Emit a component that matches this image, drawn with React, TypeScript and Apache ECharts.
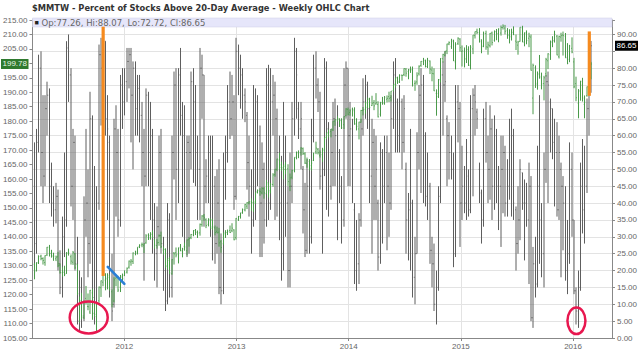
import React, { useEffect, useRef } from "react";
import * as echarts from "echarts";

const TITLE = "$MMTW - Percent of Stocks Above 20-Day Average - Weekly OHLC Chart";
const FONT = "'Liberation Sans', Arial, sans-serif";
const WIDE_FONT = "'DejaVu Sans', Verdana, sans-serif";

// Monday of the first weekly bar, and the dates at the plot's left / right edges
const firstWeek = "2011-03-14";
const axisStart = "2011-03-08";
const axisEnd = "2016-05-07";
const yearLabels = ["2012", "2013", "2014", "2015", "2016"];

// $MMTW weekly [open, high, low, close] (right axis, percent)
const mmtw2011 = [
  [45, 58, 18, 28], [28, 62, 25, 58], [58, 84, 55, 80], [80, 85, 45, 55], [55, 72, 40, 48], [48, 72, 45, 68],
  [68, 76, 60, 72], [72, 74, 40, 45], [45, 52, 36, 40], [40, 45, 33, 38], [38, 46, 34, 42], [42, 44, 20, 22],
  [22, 26, 13, 15], [15, 36, 12, 30], [30, 55, 24, 35], [35, 88, 33, 86], [86, 90, 70, 78], [78, 80, 39, 45],
  [45, 62, 35, 58], [58, 60, 20, 22], [22, 30, 4, 5], [5, 20, 2, 15], [15, 18, 3, 6], [6, 42, 5, 35],
  [35, 62, 30, 40], [40, 50, 18, 28], [28, 73, 22, 65], [65, 66, 10, 12], [12, 51, 4, 20], [20, 45, 3, 40],
  [40, 87, 38, 84], [84, 89, 63, 80], [80, 92, 76, 88], [88, 88, 60, 65], [65, 72, 35, 62], [58, 60, 12, 20],
  [20, 25, 5, 8], [10, 65, 9, 62], [62, 69, 36, 55], [55, 62, 30, 35], [35, 78, 33, 75], [75, 80, 62, 70],
];
const mmtw2012 = [
  [70, 80, 66, 76], [76, 86, 70, 82], [82, 86, 74, 84], [84, 86, 58, 72], [72, 82, 50, 80], [80, 82, 60, 68],
  [68, 78, 60, 74], [74, 78, 58, 66], [66, 70, 45, 55], [55, 62, 17, 48], [48, 74, 45, 72], [72, 73, 45, 55],
  [55, 70, 35, 60], [60, 62, 25, 35], [35, 40, 17, 25], [25, 39, 15, 33], [33, 60, 30, 55], [55, 62, 25, 28],
  [28, 30, 14, 20], [20, 25, 8, 11], [11, 40, 10, 35], [35, 37, 12, 15], [15, 60, 12, 55], [55, 79, 47, 75],
  [75, 80, 35, 50], [50, 80, 40, 78], [78, 86, 60, 66], [66, 70, 30, 60], [60, 69, 28, 55], [55, 60, 24, 58],
  [58, 60, 25, 55], [55, 79, 50, 76], [76, 80, 46, 70], [70, 75, 45, 55], [55, 60, 35, 50], [50, 86, 35, 80],
  [80, 84, 65, 78], [78, 78, 33, 45], [45, 53, 40, 48], [48, 60, 40, 55], [55, 60, 30, 35], [35, 60, 23, 45],
  [45, 48, 22, 28], [28, 50, 25, 40], [40, 53, 13, 15], [15, 31, 10, 14], [14, 55, 13, 50], [50, 60, 41, 55],
  [55, 75, 52, 70], [70, 79, 59, 65], [65, 78, 60, 70], [70, 72, 38, 42],
];
const mmtw2013 = [
  [42, 89, 41, 85], [85, 87, 72, 80], [80, 84, 68, 78], [78, 80, 65, 72], [72, 74, 64, 70], [66, 67, 44, 52],
  [52, 60, 36, 45], [45, 50, 25, 35], [35, 75, 33, 55], [55, 74, 35, 70], [70, 72, 45, 60], [60, 63, 24, 40],
  [40, 58, 24, 50], [50, 52, 28, 35], [35, 80, 33, 75], [75, 81, 35, 40], [40, 80, 38, 70], [70, 78, 60, 72],
  [72, 76, 35, 65], [65, 68, 36, 55], [55, 60, 29, 40], [40, 54, 17, 25], [25, 70, 20, 50], [50, 60, 30, 40],
  [40, 45, 15, 20], [20, 55, 15, 45], [45, 70, 40, 65], [65, 89, 60, 85], [85, 86, 65, 78], [68, 70, 59, 62],
  [62, 70, 50, 65], [50, 51, 31, 38], [38, 46, 24, 26], [26, 53, 25, 45], [45, 50, 25, 30], [30, 65, 28, 60],
  [60, 84, 58, 80], [80, 85, 71, 75], [75, 77, 67, 70], [70, 73, 44, 48], [48, 56, 25, 50], [50, 83, 48, 80],
  [80, 82, 38, 62], [62, 64, 36, 45], [45, 62, 41, 55], [55, 70, 45, 65], [65, 71, 45, 60], [60, 69, 29, 55],
  [55, 56, 40, 45], [45, 48, 28, 35], [35, 80, 33, 75], [75, 82, 65, 80],
];
const mmtw2014 = [
  [80, 80, 45, 60], [60, 70, 45, 62], [62, 65, 40, 50], [38, 40, 16, 20], [20, 35, 14, 22], [22, 37, 16, 35],
  [35, 65, 33, 62], [62, 77, 60, 70], [70, 78, 65, 75], [75, 76, 62, 68], [68, 70, 40, 48], [48, 65, 25, 58],
  [58, 62, 35, 45], [45, 60, 35, 50], [40, 41, 20, 24], [24, 58, 22, 55], [55, 56, 28, 45], [45, 60, 40, 55],
  [55, 60, 26, 45], [45, 55, 30, 40], [40, 72, 38, 65], [65, 82, 62, 78], [78, 83, 55, 75], [70, 71, 55, 60],
  [60, 75, 55, 70], [70, 71, 50, 58], [58, 72, 55, 68], [50, 52, 25, 35], [35, 43, 23, 38], [38, 62, 20, 40],
  [40, 41, 12, 18], [18, 30, 10, 25], [25, 61, 25, 55], [55, 75, 50, 72], [72, 80, 43, 75], [75, 78, 40, 60],
  [60, 61, 39, 42], [42, 55, 35, 45], [45, 46, 22, 26], [26, 30, 15, 22], [22, 28, 8, 10], [10, 20, 4, 15],
  [15, 45, 14, 42], [42, 80, 40, 78], [78, 82, 60, 75], [75, 85, 70, 76], [65, 66, 45, 60], [60, 64, 47, 55],
  [55, 60, 47, 50], [50, 55, 21, 25], [25, 75, 24, 70], [70, 75, 58, 68],
];
const mmtw2015 = [
  [68, 70, 27, 40], [40, 57, 35, 45], [45, 51, 37, 40], [40, 59, 35, 55], [48, 50, 36, 38], [38, 72, 37, 68],
  [68, 74, 42, 72], [72, 75, 60, 70], [67, 68, 62, 65], [50, 52, 40, 45], [43, 44, 28, 35], [35, 68, 33, 65],
  [65, 70, 52, 55], [55, 60, 40, 50], [50, 69, 41, 62], [62, 65, 35, 45], [45, 66, 38, 60], [60, 62, 40, 45],
  [45, 51, 32, 45], [45, 60, 27, 50], [50, 60, 37, 55], [55, 57, 36, 40], [40, 53, 36, 45], [45, 65, 41, 55],
  [55, 68, 36, 60], [60, 62, 35, 40], [38, 39, 20, 28], [28, 45, 25, 35], [35, 53, 29, 50], [49, 49, 38, 40],
  [40, 47, 23, 40], [40, 46, 33, 35], [35, 52, 16, 45], [45, 48, 5, 6], [6, 27, 3, 22], [22, 30, 12, 16],
  [16, 57, 15, 45], [45, 72, 22, 35], [35, 40, 18, 25], [25, 55, 15, 50], [50, 78, 46, 76], [76, 79, 40, 75],
  [70, 71, 55, 68], [68, 68, 53, 58], [58, 65, 39, 55], [55, 64, 36, 38], [38, 60, 35, 55], [50, 52, 18, 45],
  [45, 48, 26, 40], [40, 45, 17, 20], [20, 35, 13, 25], [25, 58, 22, 50], [50, 55, 30, 35],
];
const mmtw2016 = [
  [35, 35, 13, 14], [14, 15, 4, 8], [8, 20, 3, 15], [15, 52, 14, 45], [45, 59, 31, 38], [38, 57, 28, 45],
  [45, 71, 43, 68], [68, 78, 60, 77.26], [77.26, 88.07, 72.72, 86.65],
];

// Companion price (left axis) weekly [open, high, low, close]
const spy2011 = [
  [130.5, 130.9, 125.3, 127.9], [128.4, 131.2, 128.0, 131.0], [131.0, 133.6, 130.6, 133.2], [133.3, 133.8, 131.9, 132.5],
  [132.5, 132.9, 130.4, 131.8], [131.1, 133.6, 130.0, 133.5], [133.7, 136.5, 133.4, 136.4], [136.4, 137.2, 133.2, 134.2],
  [134.3, 135.5, 132.8, 133.4], [133.3, 134.5, 131.7, 133.3], [132.4, 133.5, 131.6, 133.0], [133.1, 134.8, 129.5, 130.0],
  [130.2, 130.8, 127.3, 127.6], [127.6, 129.6, 126.2, 127.7], [127.8, 130.0, 126.4, 126.9], [127.3, 134.7, 127.2, 134.4],
  [134.4, 135.9, 133.5, 134.4], [133.1, 133.9, 130.4, 131.6], [131.2, 135.1, 130.3, 134.5], [134.1, 134.4, 128.9, 129.3],
  [130.4, 130.6, 119.8, 120.3], [116.9, 119.3, 110.3, 117.9], [118.0, 120.6, 111.5, 112.6], [112.6, 118.0, 111.6, 117.6],
  [118.7, 123.0, 116.6, 117.4], [115.9, 120.4, 114.6, 115.8], [114.0, 121.6, 113.3, 121.5], [120.6, 122.0, 111.3, 113.4],
  [113.6, 117.5, 112.3, 113.2], [112.4, 117.2, 107.4, 116.9], [117.9, 122.8, 117.2, 122.6], [122.4, 124.9, 119.2, 124.8],
  [124.3, 129.4, 122.9, 128.6], [125.0, 127.4, 121.5, 125.7], [125.4, 127.4, 121.8, 126.7], [126.0, 127.0, 121.4, 121.9],
  [121.0, 121.8, 115.6, 116.6], [117.8, 126.0, 117.3, 125.1], [125.7, 126.6, 122.9, 125.9], [126.2, 126.5, 120.9, 121.6],
  [122.6, 126.8, 120.9, 126.4], [126.0, 127.3, 124.7, 125.5],
];
const spy2012 = [
  [126.7, 128.4, 126.4, 127.5], [127.8, 129.4, 127.3, 129.1], [129.5, 131.8, 129.0, 131.6], [131.3, 132.3, 130.0, 131.6],
  [131.5, 134.6, 130.6, 134.4], [134.2, 135.2, 133.6, 134.2], [134.7, 136.4, 133.9, 136.4], [136.6, 137.4, 136.1, 137.1],
  [137.2, 138.0, 136.4, 137.3], [137.1, 137.8, 134.4, 137.6], [137.9, 140.9, 137.6, 140.3], [140.6, 141.2, 138.9, 139.6],
  [140.4, 141.6, 139.0, 140.8], [141.0, 142.2, 139.6, 139.8], [139.0, 139.2, 135.9, 137.1], [137.0, 139.3, 135.9, 137.9],
  [138.0, 140.8, 136.9, 140.4], [140.4, 141.8, 136.1, 136.6], [135.4, 136.6, 133.8, 135.6], [135.7, 136.0, 129.3, 129.7],
  [130.0, 132.6, 128.7, 131.8], [132.5, 133.0, 127.1, 127.5], [127.2, 132.3, 126.9, 132.1], [134.4, 134.7, 130.4, 134.1],
  [134.5, 136.3, 132.9, 133.7], [134.0, 136.3, 130.8, 136.1], [136.4, 137.5, 135.0, 135.3], [135.1, 136.2, 132.9, 135.8],
  [136.7, 138.0, 135.2, 136.5], [135.2, 139.1, 133.6, 138.9], [139.0, 139.9, 136.6, 139.4], [139.7, 141.0, 139.2, 140.8],
  [140.7, 142.3, 140.2, 142.2], [142.2, 142.7, 140.6, 141.7], [141.5, 142.2, 139.6, 141.3], [141.4, 144.6, 140.4, 144.3],
  [144.2, 147.5, 143.5, 147.2], [147.2, 147.9, 145.6, 146.6], [145.9, 146.4, 143.0, 143.9], [144.3, 146.4, 143.6, 146.1],
  [145.9, 146.4, 142.8, 142.9], [143.4, 146.2, 142.3, 143.4], [143.1, 143.9, 140.5, 141.5], [141.9, 143.5, 141.2, 141.4],
  [141.6, 143.1, 136.6, 137.9], [138.3, 138.9, 134.5, 136.3], [137.6, 141.5, 137.3, 141.4], [141.0, 142.3, 139.6, 141.5],
  [141.5, 142.5, 140.6, 141.9], [142.2, 143.9, 141.3, 141.5], [142.1, 144.7, 141.6, 143.0], [142.4, 142.6, 138.8, 139.0],
];
const spy2013 = [
  [139.7, 146.5, 139.0, 146.4], [145.9, 147.2, 145.5, 147.1], [147.0, 148.3, 146.3, 148.3], [148.3, 149.8, 148.0, 149.4],
  [149.3, 151.4, 148.8, 151.2], [150.6, 152.0, 149.6, 151.8], [151.7, 152.3, 151.2, 152.1], [152.1, 153.3, 149.0, 151.9],
  [151.8, 152.6, 148.6, 152.1], [151.7, 155.4, 151.4, 155.4], [155.6, 156.4, 155.0, 156.0], [155.8, 156.8, 154.2, 155.6],
  [155.2, 157.2, 154.7, 156.7], [156.6, 157.2, 153.2, 155.2], [154.9, 159.7, 154.8, 158.8], [158.3, 158.8, 153.6, 155.5],
  [156.0, 158.6, 155.0, 158.2], [158.1, 162.0, 157.3, 161.4], [161.5, 163.4, 160.8, 163.4], [163.3, 167.0, 162.7, 166.9],
  [166.6, 169.1, 163.3, 164.9], [164.0, 166.0, 162.8, 163.5], [164.0, 164.9, 159.9, 164.8], [164.3, 165.9, 161.6, 163.2],
  [163.5, 165.1, 157.6, 159.1], [157.4, 161.9, 155.8, 160.4], [160.6, 163.2, 159.9, 162.9], [162.9, 167.5, 162.3, 167.5],
  [167.5, 169.5, 166.8, 169.2], [169.0, 169.9, 167.2, 169.1], [169.1, 171.0, 168.1, 170.7], [170.5, 170.9, 168.3, 168.8],
  [168.7, 169.3, 165.2, 165.5], [165.4, 167.4, 163.9, 166.6], [166.1, 166.9, 163.0, 163.7], [164.6, 166.4, 162.9, 165.5],
  [166.4, 169.1, 166.2, 168.9], [169.4, 172.9, 168.6, 170.7], [170.3, 170.7, 168.5, 169.1], [168.2, 169.9, 167.4, 169.2],
  [168.4, 170.8, 165.9, 170.3], [169.9, 174.4, 169.4, 174.4], [174.4, 176.0, 173.8, 175.9], [176.0, 177.1, 174.4, 176.2],
  [176.4, 177.3, 174.4, 177.3], [177.0, 180.0, 176.6, 180.0], [180.0, 180.6, 178.4, 180.6], [180.4, 181.7, 179.9, 181.0],
  [180.7, 181.0, 178.0, 180.2], [180.2, 181.0, 177.3, 177.7], [178.8, 181.7, 177.3, 181.6], [181.9, 184.5, 181.7, 184.2],
];
const spy2014 = [
  [184.1, 184.7, 182.0, 182.4], [183.0, 184.1, 181.9, 183.6], [184.2, 184.7, 181.6, 183.6], [184.0, 184.8, 178.8, 178.9],
  [179.2, 181.0, 176.8, 178.2], [177.3, 179.8, 173.7, 179.7], [179.6, 183.9, 179.5, 183.7], [183.7, 184.9, 182.0, 183.9],
  [184.1, 186.7, 182.6, 186.3], [184.8, 188.2, 184.4, 187.7], [187.6, 188.1, 184.6, 184.7], [185.4, 188.8, 185.3, 186.2],
  [186.4, 187.3, 183.8, 185.3], [186.0, 189.7, 185.7, 186.4], [185.8, 186.9, 181.3, 181.5], [182.4, 186.7, 181.6, 186.4],
  [186.5, 188.4, 185.7, 186.3], [186.3, 188.7, 185.7, 188.3], [187.6, 188.9, 186.5, 187.9], [188.5, 190.2, 186.6, 187.9],
  [188.2, 190.4, 186.8, 190.4], [190.6, 192.8, 190.3, 192.7], [192.8, 195.1, 191.6, 194.9], [195.1, 195.4, 192.9, 193.5],
  [193.6, 196.2, 193.2, 195.9], [195.9, 196.1, 194.0, 195.8], [196.1, 198.3, 195.6, 198.2], [198.0, 198.4, 195.4, 196.6],
  [197.2, 198.1, 194.5, 197.7], [197.8, 198.9, 196.7, 197.9], [197.7, 198.9, 192.0, 192.5], [193.0, 194.1, 190.5, 193.2],
  [193.6, 196.9, 192.6, 195.7], [196.4, 199.3, 195.8, 199.0], [199.3, 200.8, 198.8, 200.7], [200.6, 201.9, 199.4, 201.1],
  [200.9, 201.3, 198.6, 198.9], [198.9, 201.9, 198.4, 201.0], [200.8, 201.0, 196.3, 198.0], [197.7, 198.9, 193.8, 196.5],
  [196.4, 198.3, 190.4, 190.5], [189.6, 191.0, 181.9, 188.5], [189.6, 194.6, 188.0, 194.4], [194.3, 201.8, 193.4, 201.7],
  [201.6, 203.3, 200.3, 203.1], [202.8, 204.3, 202.4, 204.2], [204.3, 206.8, 203.2, 206.7], [206.7, 207.6, 206.3, 207.2],
  [205.8, 208.5, 205.0, 208.0], [207.5, 208.2, 200.8, 200.9], [200.5, 207.3, 197.9, 206.5], [206.8, 209.0, 206.4, 208.7],
];
const spy2015 = [
  [208.4, 208.7, 204.0, 205.4], [204.1, 206.2, 198.9, 204.3], [204.2, 205.5, 198.6, 201.6], [201.5, 206.3, 200.1, 204.9],
  [204.7, 205.9, 199.1, 199.4], [199.3, 206.3, 197.9, 205.6], [205.0, 209.8, 203.2, 209.8], [209.6, 211.0, 208.6, 211.0],
  [211.1, 212.0, 210.1, 210.7], [210.6, 212.2, 207.2, 207.5], [208.1, 208.3, 203.5, 205.8], [206.0, 211.0, 205.6, 210.4],
  [210.3, 211.3, 204.7, 205.7], [205.6, 207.5, 203.0, 206.4], [206.1, 210.5, 205.5, 210.4], [210.5, 211.0, 206.2, 207.2],
  [208.0, 211.4, 207.5, 210.9], [211.0, 211.9, 208.0, 210.3], [210.2, 212.1, 207.3, 211.9], [210.5, 213.1, 209.6, 212.4],
  [212.4, 213.5, 211.7, 212.9], [212.2, 213.3, 210.0, 211.1], [211.3, 212.2, 208.5, 209.8], [209.7, 211.8, 206.9, 209.1],
  [209.4, 212.0, 207.9, 210.8], [210.6, 212.8, 209.8, 209.9], [207.7, 210.0, 204.6, 207.3], [206.3, 207.8, 203.0, 207.4],
  [207.6, 212.5, 207.5, 212.5], [212.3, 213.0, 207.3, 207.5], [207.2, 210.7, 205.9, 210.5], [210.6, 211.4, 206.6, 207.9],
  [208.7, 210.6, 205.6, 209.4], [209.1, 210.0, 197.5, 197.6], [188.0, 199.9, 182.4, 199.3], [198.5, 199.3, 191.5, 192.6],
  [193.1, 197.2, 190.9, 196.5], [196.1, 202.9, 194.7, 195.5], [195.0, 196.8, 191.0, 192.9], [193.0, 195.7, 187.2, 195.0],
  [196.4, 201.9, 195.4, 201.3], [200.9, 203.5, 198.0, 203.3], [203.0, 207.9, 201.2, 207.5], [207.3, 209.4, 205.6, 207.9],
  [207.8, 211.3, 207.2, 210.0], [209.4, 209.8, 202.8, 202.9], [202.3, 209.6, 201.7, 209.3], [209.1, 210.6, 207.5, 209.6],
  [209.8, 211.0, 202.7, 209.6], [209.4, 210.5, 201.9, 201.9], [202.1, 207.0, 199.7, 200.0], [201.4, 206.4, 200.4, 206.0],
  [205.2, 209.0, 203.5, 203.9],
];
const spy2016 = [
  [200.5, 201.9, 191.4, 191.9], [193.0, 195.4, 186.9, 188.1], [186.2, 191.1, 181.0, 190.5], [190.4, 194.0, 187.1, 193.7],
  [192.5, 195.0, 186.8, 188.0], [185.8, 188.9, 181.0, 186.6], [188.8, 192.0, 188.5, 191.9], [192.0, 196.2, 189.5, 195.1],
  [195.0, 200.5, 194.5, 199.78],
];

// hand-drawn annotations, in data coordinates
const orangeMarks = [
  { date: "2011-10-24", from: 92.3, to: 18.4 },
  { date: "2016-02-23", from: 90.9, to: 71.8 },
];
const blueMark = { from: ["2011-11-08", 129.6], to: ["2012-01-01", 123.7] };
const redRings = [
  { date: "2011-09-07", value: 6.1, rx: 19, ry: 16 },
  { date: "2016-01-12", value: 5.1, rx: 9, ry: 13.3 },
];

const mmtw = [...mmtw2011, ...mmtw2012, ...mmtw2013, ...mmtw2014, ...mmtw2015, ...mmtw2016];
const spy = [...spy2011, ...spy2012, ...spy2013, ...spy2014, ...spy2015, ...spy2016];

const DAY = 86400000;
const toUTC = (s: string) => {
  const [y, m, d] = s.split("-").map(Number);
  return Date.UTC(y, m - 1, d);
};
const decYear = (ms: number) => {
  const y = new Date(ms).getUTCFullYear();
  const a = Date.UTC(y, 0, 1);
  const b = Date.UTC(y + 1, 0, 1);
  return y + (ms - a) / (b - a);
};
const weekX = mmtw.map((_, i) => decYear(toUTC(firstWeek) + i * 7 * DAY));

const RIGHT_MAX = (90 * 110) / 105; // right scale aligned with the left 105..215

// bars are snapped to half pixels like the original raster renderer (crisp or 2px-soft)
const snap = (v: number) => Math.round(v * 2) / 2;

function ohlcRenderer(color: string, tick: number) {
  return (params: any, api: any) => {
    const x = api.value(0);
    const o = api.coord([x, api.value(1)]);
    const h = api.coord([x, api.value(2)]);
    const l = api.coord([x, api.value(3)]);
    const c = api.coord([x, api.value(4)]);
    const sx = snap(h[0]);
    const st = { stroke: color, lineWidth: 1 };
    return {
      type: "group",
      children: [
        { type: "line", shape: { x1: sx, y1: h[1], x2: sx, y2: l[1] }, style: st },
        { type: "line", shape: { x1: sx - tick, y1: o[1], x2: sx, y2: o[1] }, style: st },
        { type: "line", shape: { x1: sx, y1: c[1], x2: sx + tick, y2: c[1] }, style: st },
      ],
    };
  };
}

export default function App() {
  const ref = useRef<HTMLDivElement>(null);
  useEffect(() => {
    document.body.style.margin = "0";
    if (!ref.current) return;
    const chart = echarts.init(ref.current, undefined, { renderer: "svg" });
    const last = mmtw[mmtw.length - 1];
    const lastSpy = spy[spy.length - 1][3];
    const lastMm = last[3];
    const axisLabelBase = { color: "#666", fontSize: 8, fontFamily: FONT };
    const option: any = {
      animation: false,
      backgroundColor: "#fff",
      textStyle: { fontFamily: FONT },
      title: {
        text: TITLE,
        left: 32,
        top: 4,
        padding: 0,
        textStyle: { fontSize: 8.3, fontWeight: "bold", color: "#333", fontFamily: WIDE_FONT },
      },
      grid: { left: 32, right: 28, top: 20, bottom: 18 },
      xAxis: {
        type: "value",
        min: decYear(toUTC(axisStart)),
        max: decYear(toUTC(axisEnd)),
        splitNumber: 5,
        axisLine: { lineStyle: { color: "#888" } },
        axisTick: { length: 3, lineStyle: { color: "#888" } },
        axisLabel: {
          ...axisLabelBase,
          margin: 4,
          showMinLabel: false,
          showMaxLabel: false,
          formatter: (v: number) => {
            const r = Math.round(v);
            return Math.abs(v - r) < 1e-6 && yearLabels.includes(String(r)) ? String(r) : "";
          },
        },
        splitLine: { show: true, lineStyle: { color: "#e3e3e3" } },
      },
      yAxis: [
        {
          type: "value",
          position: "left",
          min: 105,
          max: 215,
          interval: 5,
          axisLine: { show: true, lineStyle: { color: "#888" } },
          axisTick: { show: true, length: 3, lineStyle: { color: "#888" } },
          axisLabel: {
            ...axisLabelBase,
            margin: 5,
            formatter: (v: number) => (Math.abs(v - lastSpy) < 2.5 ? "" : v.toFixed(2)),
          },
          splitLine: { show: false },
        },
        {
          type: "value",
          position: "right",
          min: 0,
          max: RIGHT_MAX,
          interval: 5,
          axisLine: { show: true, lineStyle: { color: "#888" } },
          axisTick: { show: true, length: 3, lineStyle: { color: "#888" } },
          axisLabel: {
            ...axisLabelBase,
            margin: 5,
            formatter: (v: number) =>
              Math.abs(v / 5 - Math.round(v / 5)) > 1e-6 || Math.abs(v - lastMm) < 2.5 ? "" : v.toFixed(2),
          },
          splitLine: { show: true, lineStyle: { color: "#e3e3e3" } },
        },
      ],
      series: [
        {
          name: "$MMTW",
          type: "custom",
          xAxisIndex: 0,
          yAxisIndex: 1,
          renderItem: ohlcRenderer("#5e5e5e", 0.7),
          encode: { x: 0, y: [1, 2, 3, 4] },
          data: mmtw.map((d, i) => [weekX[i], ...d]),
          clip: true,
          z: 3,
        },
        {
          name: "Price",
          type: "custom",
          xAxisIndex: 0,
          yAxisIndex: 0,
          renderItem: ohlcRenderer("#4a9a4a", 0.7),
          encode: { x: 0, y: [1, 2, 3, 4] },
          data: spy.map((d, i) => [weekX[i], ...d]),
          clip: true,
          z: 4,
        },
      ],
    };
    chart.setOption(option);

    const px = (date: string, v: number, seriesIndex: number) =>
      chart.convertToPixel({ seriesIndex }, [decYear(toUTC(date)), v]) as number[];
    const gridLeft = chart.convertToPixel({ xAxisIndex: 0 }, decYear(toUTC(axisStart))) as number;
    const gridRight = chart.convertToPixel({ xAxisIndex: 0 }, decYear(toUTC(axisEnd))) as number;
    const gridTop = chart.convertToPixel({ yAxisIndex: 0 }, 215) as number;
    const yLeft = chart.convertToPixel({ yAxisIndex: 0 }, lastSpy) as number;
    const yRight = chart.convertToPixel({ yAxisIndex: 1 }, lastMm) as number;

    const graphics: any[] = [
      {
        type: "rect",
        z: 1,
        shape: { x: gridLeft, y: gridTop - 2, width: gridRight - gridLeft, height: 9 },
        style: { fill: "#e6e6fa", stroke: "#cfcfe6", lineWidth: 0.5 },
      },
      {
        type: "text",
        z: 5,
        x: gridLeft + 2,
        y: gridTop + 2.5,
        style: { text: "■", fill: "#222", fontSize: 7, fontFamily: FONT, verticalAlign: "middle" },
      },
      {
        type: "text",
        z: 5,
        x: gridLeft + 9,
        y: gridTop + 2.5,
        style: {
          text: `Op:${last[0].toFixed(2)}, Hi:${last[1].toFixed(2)}, Lo:${last[2].toFixed(2)}, Cl:${last[3].toFixed(2)}`,
          fill: "#666",
          fontSize: 8.5,
          fontFamily: WIDE_FONT,
          verticalAlign: "middle",
        },
      },
    ];
    orangeMarks.forEach((m) => {
      const a = px(m.date, m.from, 0);
      const b = px(m.date, m.to, 0);
      graphics.push({
        type: "line",
        z: 50,
        shape: { x1: a[0], y1: a[1], x2: b[0], y2: b[1] },
        style: { stroke: "#f58a1f", lineWidth: 3.2 },
      });
    });
    {
      const a = px(blueMark.from[0] as string, blueMark.from[1] as number, 1);
      const b = px(blueMark.to[0] as string, blueMark.to[1] as number, 1);
      graphics.push({
        type: "line",
        z: 50,
        shape: { x1: a[0], y1: a[1], x2: b[0], y2: b[1] },
        style: { stroke: "#2a7fd6", lineWidth: 2.6, lineCap: "round" },
      });
    }
    redRings.forEach((r) => {
      const c = px(r.date, r.value, 0);
      graphics.push({
        type: "ellipse",
        z: 50,
        shape: { cx: c[0], cy: c[1], rx: r.rx, ry: r.ry },
        style: { fill: "none", stroke: "#e8174f", lineWidth: 2.5 },
      });
    });
    // current-value tags on both axes
    graphics.push(
      { type: "rect", z: 60, shape: { x: 1, y: yLeft - 5, width: 27.5, height: 10 }, style: { fill: "#2f7a2f" } },
      {
        type: "text",
        z: 61,
        x: 2.5,
        y: yLeft,
        style: { text: lastSpy.toFixed(2), fill: "#e8f5e8", fontSize: 8, fontFamily: FONT, verticalAlign: "middle" },
      },
      { type: "rect", z: 60, shape: { x: gridRight + 3, y: yRight - 5, width: 23, height: 10 }, style: { fill: "#000" } },
      {
        type: "text",
        z: 61,
        x: gridRight + 4.5,
        y: yRight,
        style: { text: lastMm.toFixed(2), fill: "#fff", fontSize: 8, fontFamily: FONT, verticalAlign: "middle" },
      }
    );
    chart.setOption({ graphic: graphics });
    return () => chart.dispose();
  }, []);
  return (
    <div ref={ref} style={{ position: "absolute", left: 0, top: 0, width: 640, height: 356, background: "#fff" }} />
  );
}
